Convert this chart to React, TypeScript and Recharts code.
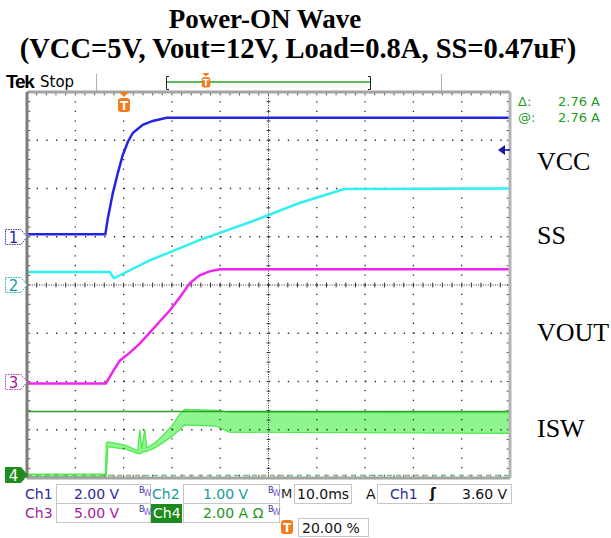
import { ComposedChart, Line, Area, XAxis, YAxis, ReferenceLine } from "recharts";

// Tek scope capture: 10 ms/div, trigger at 20% (t = 0 ms)
// values kept in channel units, converted to screen divisions below
const VCC_T = [-20, -3.78, -3.26, -2.23, -1.2, -0.17, 0.87, 1.9, 3.97, 6.03, 8.93, 80];
const VCC_V = [0.1, 0.1, 0.77, 1.81, 2.64, 3.39, 3.93, 4.3, 4.64, 4.8, 4.93, 4.93];

const SS_T = [-20, -2.85, -2.0, 5.4, 15.7, 26.1, 36.4, 45.7, 80];
const SS_V = [0.27, 0.27, 0.14, 0.51, 0.93, 1.3, 1.7, 1.99, 2.0];

const VOUT_T = [-20, -3.68, -2.23, -0.79, 1.28, 3.35, 5.41, 7.48, 9.55, 11.61, 13.68, 15.74, 17.81, 19.88, 80];
const VOUT_V = [-0.2, -0.2, 1.02, 2.16, 2.99, 3.93, 5.07, 6.22, 7.36, 8.71, 10.17, 11.0, 11.41, 11.62, 11.62];

// switch current is a ripple band: low / high envelope in A
const ISW_T = [-20, -3.78, -3.57, -3.26, 0.25, 2.93, 3.35, 3.76, 4.38, 4.79, 6.45, 8.1, 10.17, 11.6, 12.64, 19.26, 21.9, 80];
const ISW_LO = [0.06, 0.06, 0.1, 1.3, 1.2, 1.02, 1.0, 1.05, 1.1, 1.1, 1.25, 1.45, 1.75, 2.0, 2.2, 2.15, 1.9, 1.85];
const ISW_HI = [0.16, 0.16, 1.45, 1.5, 1.36, 1.14, 2.0, 1.2, 2.0, 1.25, 1.45, 1.75, 2.2, 2.65, 2.85, 2.8, 2.72, 2.7];

// volts (amps) per division and ground marker position in divisions
const CH_SCALE = [2, 1, 5, 2];
const CH_GROUND = [5, 4, 2, 0];

const CURSOR_A = 2.76;
const TRIG_V = 3.6;

const MAJOR_T = [-10, 0, 10, 20, 40, 50, 60, 70];
const MAJOR_DIV = [1, 2, 3, 5, 6, 7];
const MINOR_T = Array.from({ length: 49 }, (_, i) => -18 + i * 2);
const MINOR_DIV = Array.from({ length: 39 }, (_, i) => Math.round((i + 1) * 2) / 10);

const toDiv = (ch: number, v: number) => CH_GROUND[ch] + v / CH_SCALE[ch];

const vccData = VCC_T.map((t, i) => ({ t, d: toDiv(0, VCC_V[i]) }));
const ssData = SS_T.map((t, i) => ({ t, d: toDiv(1, SS_V[i]) }));
const voutData = VOUT_T.map((t, i) => ({ t, d: toDiv(2, VOUT_V[i]) }));
const iswData = ISW_T.map((t, i) => ({ t, d: [toDiv(3, ISW_LO[i]), toDiv(3, ISW_HI[i])] }));

const SANS = "'DejaVu Sans', sans-serif";
const SERIF = "'Liberation Serif', 'Times New Roman', serif";
const GRID = "#2a2a2a";
const TICK = "#555";

function Txt({ x, y, children, style }: any) {
  return (
    <div style={{ position: "absolute", left: x, top: y, lineHeight: 1, whiteSpace: "nowrap", ...style }}>
      {children}
    </div>
  );
}

function Box({ x, y, w, h }: any) {
  return (
    <div
      style={{
        position: "absolute", left: x, top: y, width: w, height: h,
        border: "1px solid #c6c6c6", boxSizing: "border-box", background: "#fff",
      }}
    />
  );
}

function Bw({ x, y }: any) {
  return (
    <div style={{ position: "absolute", left: x, top: y, fontFamily: SANS, fontSize: 8, lineHeight: 1 }}>
      <span style={{ color: "#303090" }}>B</span>
      <span style={{ color: "#7a5ad0", position: "relative", top: 3, marginLeft: -1 }}>W</span>
    </div>
  );
}

function ChMarker({ n, y, stroke, color, filled }: any) {
  return (
    <svg style={{ position: "absolute", left: 5, top: y - 8 }} width={23} height={17}>
      <path
        d="M0.5 0.5 H16 L22 8 L16 15.5 H0.5 Z"
        fill={filled ? stroke : "#fff"}
        stroke={stroke}
        strokeWidth={1}
        strokeDasharray={filled ? undefined : "1.5 1"}
      />
      <text x={8.5} y={13.5} textAnchor="middle" fontSize={15} fontFamily={SANS} fill={filled ? "#fff" : color}>
        {n}
      </text>
    </svg>
  );
}

function TrigIcon({ x, y, s = 1, arrow = true }: any) {
  return (
    <svg style={{ position: "absolute", left: x - 7 * s, top: y }} width={14 * s} height={21 * s}>
      <g transform={`scale(${s})`}>
        {arrow && <path d="M2 0 H12 L7 5 Z" fill="#f27c1c" />}
        <rect x={1} y={arrow ? 6 : 0} width={12} height={14} rx={3} fill="#f27c1c" />
        <text x={7} y={arrow ? 17.5 : 11.5} fontSize={12} fontWeight="bold" textAnchor="middle" fill="#fff" fontFamily={SANS}>
          T
        </text>
      </g>
    </svg>
  );
}

export default function App() {
  return (
    <div style={{ position: "absolute", left: 0, top: 0, width: 611, height: 538, background: "#fff", overflow: "hidden" }}>
      {/* title */}
      <Txt x={265} y={6} style={{ transform: "translateX(-50%)", fontFamily: SERIF, fontWeight: "bold", fontSize: 27 }}>
        Power-ON Wave
      </Txt>
      <Txt x={298} y={35} style={{ transform: "translateX(-50%)", fontFamily: SERIF, fontWeight: "bold", fontSize: 28.5 }}>
        (VCC=5V, Vout=12V, Load=0.8A, SS=0.47uF)
      </Txt>

      {/* scope header */}
      <Txt x={6} y={72} style={{ fontFamily: "'Liberation Sans', sans-serif", fontWeight: "bold", fontSize: 19, letterSpacing: -1.2 }}>
        Tek
      </Txt>
      <Txt x={40} y={75} style={{ fontFamily: SANS, fontSize: 15 }}>
        Stop
      </Txt>
      <svg style={{ position: "absolute", left: 0, top: 68 }} width={611} height={24}>
        <line x1={96.5} x2={96.5} y1={6} y2={23} stroke="#b0b0b0" />
        <line x1={441.5} x2={441.5} y1={6} y2={23} stroke="#b0b0b0" />
        <line x1={166} x2={371} y1={14} y2={14} stroke="#5cbc5c" strokeWidth={2} />
        <path d="M169 8.5 H166.5 V21.5 H169" fill="none" stroke="#222" />
        <path d="M368 8.5 H370.5 V21.5 H368" fill="none" stroke="#222" />
      </svg>
      <TrigIcon x={206} y={73} s={0.72} />

      <ComposedChart
        width={611}
        height={538}
        margin={{ top: 92, right: 101, bottom: 60, left: 27 }}
        style={{ position: "absolute", left: 0, top: 0 }}
      >
        <XAxis type="number" dataKey="t" domain={[-20, 80]} height={0} tick={false} tickLine={false} axisLine={false} allowDataOverflow />
        <YAxis type="number" domain={[0, 8]} width={0} tick={false} tickLine={false} axisLine={false} allowDataOverflow />

        {/* graticule: dotted major lines, dense centre cross with minor ticks */}
        {MAJOR_T.map((t) => (
          <ReferenceLine key={"gx" + t} x={t} stroke={GRID} strokeWidth={1.3} strokeDasharray="1.3 8.33" />
        ))}
        {MAJOR_DIV.map((d) => (
          <ReferenceLine key={"gy" + d} y={d} stroke={GRID} strokeWidth={1.3} strokeDasharray="1.3 8.36" />
        ))}
        <ReferenceLine x={30} stroke="#333" strokeDasharray="1 1.4" />
        <ReferenceLine y={4} stroke="#333" strokeDasharray="1 1.4" />
        {MINOR_T.map((t) => (
          <ReferenceLine key={"h" + t} segment={[{ x: t, y: 3.95 }, { x: t, y: 4.05 }]} stroke="#333" />
        ))}
        {MINOR_DIV.map((d) => (
          <ReferenceLine key={"v" + d} segment={[{ x: 29.6, y: d }, { x: 30.4, y: d }]} stroke="#333" />
        ))}

        {/* frame edge ticks */}
        {MINOR_T.map((t) => (
          <ReferenceLine key={"et" + t} segment={[{ x: t, y: 8 }, { x: t, y: 7.93 }]} stroke={TICK} />
        ))}
        {MINOR_T.map((t) => (
          <ReferenceLine key={"eb" + t} segment={[{ x: t, y: 0 }, { x: t, y: 0.07 }]} stroke={TICK} />
        ))}
        {MINOR_DIV.map((d) => (
          <ReferenceLine key={"el" + d} segment={[{ x: -20, y: d }, { x: -19.3, y: d }]} stroke={TICK} />
        ))}
        {MINOR_DIV.map((d) => (
          <ReferenceLine key={"er" + d} segment={[{ x: 80, y: d }, { x: 79.3, y: d }]} stroke={TICK} />
        ))}

        <ReferenceLine y={toDiv(3, CURSOR_A)} stroke="#2f9e2f" strokeWidth={1.5} />
        <ReferenceLine y={0.05} stroke="#6cc46c" strokeWidth={1.5} strokeDasharray="5 4" />

        <Area
          data={iswData}
          dataKey="d"
          type="linear"
          stroke="#4aea4a"
          strokeWidth={1.2}
          fill="#6af26a"
          fillOpacity={0.75}
          isAnimationActive={false}
        />
        <Line data={voutData} dataKey="d" type="linear" stroke="#f024f0" strokeWidth={2.5} dot={false} isAnimationActive={false} />
        <Line data={ssData} dataKey="d" type="linear" stroke="#30f0f0" strokeWidth={2.5} dot={false} isAnimationActive={false} />
        <Line data={vccData} dataKey="d" type="linear" stroke="#2424e6" strokeWidth={2.5} dot={false} isAnimationActive={false} />

        {/* frame */}
        <ReferenceLine y={8} stroke="#a4a4a4" strokeWidth={3} />
        <ReferenceLine y={0} stroke="#a4a4a4" strokeWidth={3} />
        <ReferenceLine x={-20} stroke="#7c7c7c" strokeWidth={3} />
        <ReferenceLine x={80} stroke="#b4b4b4" strokeWidth={3} />
      </ComposedChart>

      {/* trigger marker at 20% and ch1 trigger level */}
      <TrigIcon x={124} y={92} />
      <svg style={{ position: "absolute", left: 498, top: 478 - toDiv(0, TRIG_V) * 48.25 - 5 }} width={12} height={10}>
        <path d="M0 5 L7 0 L7 10 Z" fill="#1c1ca8" />
        <line x1={7} x2={12} y1={5} y2={5} stroke="#1c1ca8" strokeWidth={1.5} />
      </svg>

      {/* channel ground markers */}
      <ChMarker n="1" y={478 - CH_GROUND[0] * 48.25} stroke="#3a3ab0" color="#2a2a9a" />
      <ChMarker n="2" y={478 - CH_GROUND[1] * 48.25} stroke="#22b0b0" color="#149a9a" />
      <ChMarker n="3" y={478 - CH_GROUND[2] * 48.25} stroke="#b040b0" color="#9a1a9a" />
      <ChMarker n="4" y={475} stroke="#1e8c1e" color="#fff" filled />

      {/* cursor readout */}
      <Txt x={518} y={95} style={{ fontFamily: SANS, fontSize: 13, color: "#1f9a1f" }}>Δ:</Txt>
      <Txt x={558} y={95} style={{ fontFamily: SANS, fontSize: 13, color: "#1f9a1f" }}>2.76 A</Txt>
      <Txt x={518} y={111} style={{ fontFamily: SANS, fontSize: 13, color: "#1f9a1f" }}>@:</Txt>
      <Txt x={558} y={111} style={{ fontFamily: SANS, fontSize: 13, color: "#1f9a1f" }}>2.76 A</Txt>

      {/* trace labels */}
      <Txt x={537} y={149} style={{ fontFamily: SERIF, fontSize: 26 }}>VCC</Txt>
      <Txt x={537} y={223} style={{ fontFamily: SERIF, fontSize: 26 }}>SS</Txt>
      <Txt x={537} y={320} style={{ fontFamily: SERIF, fontSize: 26 }}>VOUT</Txt>
      <Txt x={537} y={416} style={{ fontFamily: SERIF, fontSize: 26 }}>ISW</Txt>

      {/* status bar */}
      <Box x={56} y={484} w={95} h={20} />
      <Box x={183} y={484} w={97} h={20} />
      <Box x={294} y={484} w={58} h={20} />
      <Box x={377} y={484} w={135} h={20} />
      <Box x={56} y={503} w={95} h={20} />
      <Box x={183} y={503} w={97} h={20} />
      <Box x={298} y={518} w={71} h={19} />

      <Txt x={25} y={487} style={{ fontFamily: SANS, fontSize: 14, color: "#2b2b9c" }}>Ch1</Txt>
      <Txt x={74} y={487} style={{ fontFamily: SANS, fontSize: 14, color: "#2b2b9c" }}>2.00 V</Txt>
      <Bw x={139} y={487} />
      <Txt x={152} y={487} style={{ fontFamily: SANS, fontSize: 14, color: "#159c9c" }}>Ch2</Txt>
      <Txt x={203} y={487} style={{ fontFamily: SANS, fontSize: 14, color: "#159c9c" }}>1.00 V</Txt>
      <Bw x={268} y={487} />
      <Txt x={281} y={487} style={{ fontFamily: SANS, fontSize: 13, color: "#222" }}>M</Txt>
      <Txt x={297} y={487} style={{ fontFamily: SANS, fontSize: 14, color: "#111" }}>10.0ms</Txt>
      <Txt x={366} y={487} style={{ fontFamily: SANS, fontSize: 14, color: "#111" }}>A</Txt>
      <Txt x={390} y={487} style={{ fontFamily: SANS, fontSize: 14, color: "#2b2b9c" }}>Ch1</Txt>
      <Txt x={430} y={486} style={{ fontFamily: SANS, fontSize: 14, fontWeight: "bold", color: "#111" }}>ʃ</Txt>
      <Txt x={462} y={487} style={{ fontFamily: SANS, fontSize: 14, color: "#111" }}>3.60 V</Txt>

      <Txt x={25} y={506} style={{ fontFamily: SANS, fontSize: 14, color: "#a0229f" }}>Ch3</Txt>
      <Txt x={74} y={506} style={{ fontFamily: SANS, fontSize: 14, color: "#a0229f" }}>5.00 V</Txt>
      <Bw x={139} y={506} />
      <div style={{ position: "absolute", left: 151, top: 504, width: 31, height: 19, background: "#1c8a1c" }} />
      <Txt x={153} y={506} style={{ fontFamily: SANS, fontSize: 14, color: "#fff" }}>Ch4</Txt>
      <Txt x={203} y={506} style={{ fontFamily: SANS, fontSize: 14, color: "#1c961c" }}>2.00 A Ω</Txt>
      <Bw x={268} y={506} />

      <TrigIcon x={287} y={520} arrow={false} />
      <Txt x={302} y={521} style={{ fontFamily: SANS, fontSize: 14, color: "#111" }}>20.00 %</Txt>
    </div>
  );
}
